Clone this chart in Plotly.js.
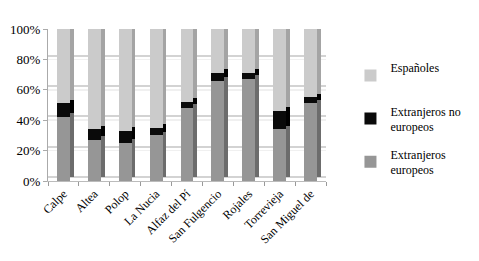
<!DOCTYPE html>
<html><head><meta charset="utf-8">
<script src="https://cdn.plot.ly/plotly-3.0.1.min.js"></script>
<style>html,body{margin:0;padding:0;background:#fff}#c{width:479px;height:261px}</style>
</head><body><div id="c"></div>
<script>
var categories = ["Calpe","Altea","Polop","La Nucia","Alfaz del Pí","San Fulgencio","Rojales","Torrevieja","San Miguel de"];
var europeos   = [42, 27, 25, 30, 48, 66, 67, 34, 51];
var noEuropeos = [9, 7, 8, 5, 4, 5, 4, 12, 4];
var espanoles  = [49, 66, 67, 65, 48, 29, 29, 54, 45];
var names = ["Extranjeros<br>europeos","Extranjeros no<br>europeos","Españoles<br>&nbsp;"];
var yTicks = [0,20,40,60,80,100];
var yTickText = ["0%","20%","40%","60%","80%","100%"];

var series = [europeos, noEuropeos, espanoles];
var front = ["#969696","#0a0a0a","#cbcbcb"];
var side  = ["#6c6c6c","#000000","#a4a4a4"];
var ranks = [3,2,1];
var W = 0.42, shift = 0.12;
var traces = [];
// side faces (back layer, shifted up-right)
series.forEach(function(s,i){
  traces.push({type:"bar", x:categories, y:s, xaxis:"x", yaxis:"y", width:W,
    marker:{color:side[i], line:{width:0}}, showlegend:false, hoverinfo:"skip"});
});
// front faces (overlay layer)
series.forEach(function(s,i){
  traces.push({type:"bar", x:categories, y:s, name:names[i], width:W, legendrank:ranks[i],
    legendgroup:"g"+i, xaxis:"x2", yaxis:"y2", marker:{color:front[i], line:{width:0}}});
});
var fam = "Liberation Serif, DejaVu Serif, serif";
var layout = {
  width:479, height:261, barmode:"stack", showlegend:true,
  paper_bgcolor:"#fff", plot_bgcolor:"#fff",
  margin:{l:48, r:126, t:29, b:80},
  font:{family:fam, size:12, color:"#000"},
  xaxis:{type:"category", range:[-0.5-shift,8.5-shift], showticklabels:false, ticks:"", showline:false,
    showgrid:false, zeroline:false},
  yaxis:{range:[-2.5,97.5], showticklabels:false, showline:false, ticks:"",
    showgrid:true, gridcolor:"#d3d3d3", gridwidth:2, zeroline:false, tickmode:"array", tickvals:yTicks},
  xaxis2:{type:"category", overlaying:"x", side:"bottom", range:[-0.5,8.5], tickangle:-45, tickson:"boundaries",
    ticks:"outside", ticklen:4, tickcolor:"#999", showline:true, linecolor:"#bbb",
    showgrid:false, zeroline:false, tickfont:{family:fam, size:12, color:"#000"}},
  yaxis2:{range:[0,100], overlaying:"y", side:"left", tickmode:"array", tickvals:yTicks, ticktext:yTickText,
    showgrid:true, gridcolor:"rgba(211,211,211,0.35)", gridwidth:1.5, showline:true, linecolor:"#aaa", ticks:"outside", ticklen:4, tickcolor:"#aaa",
    zeroline:false, tickfont:{family:fam, size:13, color:"#000"}},
  legend:{x:1.088, y:0.84, xanchor:"left", yanchor:"top", traceorder:"grouped",
    tracegroupgap:9, font:{family:fam, size:12, color:"#000"}, itemwidth:30, bgcolor:"rgba(0,0,0,0)"}
};
Plotly.newPlot("c", traces, layout, {displayModeBar:false, staticPlot:true});
</script></body></html>
